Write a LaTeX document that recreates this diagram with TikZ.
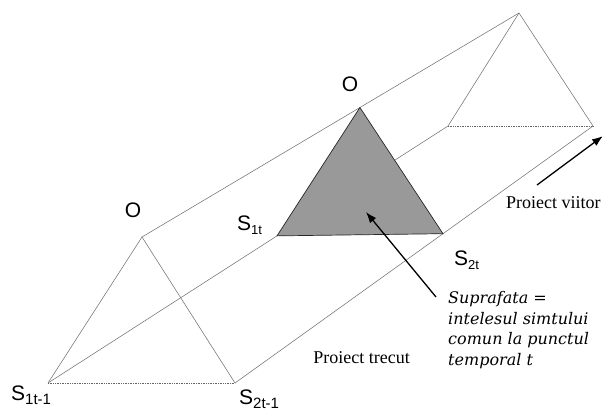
\documentclass[tikz,border=0pt]{standalone}
\usepackage{fontspec}
\setmainfont{Liberation Serif}
\newfontfamily\labfont{Liberation Sans}
\newfontfamily\notefont{DejaVu Serif}
\usetikzlibrary{arrows.meta,calc}
\tikzset{
  edge/.style={draw=black!55, line width=0.55pt},
  baseedge/.style={draw=black!60, line width=0.7pt, densely dotted},
  surf/.style={fill=black!40, draw=black!85, line width=0.7pt},
  vlabel/.style={font=\labfont\fontsize{21}{21}\selectfont, inner sep=0pt},
  ptext/.style={font=\fontsize{18}{18}\selectfont, inner sep=0pt},
  note/.style={font=\notefont\itshape\fontsize{16}{20.7}\selectfont, inner sep=0pt, align=left, anchor=north west},
  pointer/.style={draw=black, line width=1.3pt, -{Latex[length=11pt,width=8pt]}}
}
\newcommand{\subsc}[2]{{\fontsize{#1}{#1}\selectfont\raisebox{-4pt}{#2}}}
\begin{document}
\begin{tikzpicture}[x=1pt,y=-1pt]
\useasboundingbox (0,0) rectangle (602,410);
% left triangle
\coordinate (LO) at (142,237);
\coordinate (LA) at (48,383);
\coordinate (LB) at (235,383);
% right triangle
\coordinate (RO) at (519,13);
\coordinate (RA) at (448,126);
\coordinate (RB) at (593,126);
% middle triangle on the long lines
\coordinate (MO) at ($(LO)!0.578!(RO)$);
\coordinate (MA) at ($(LA)!0.5725!(RA)$);
\coordinate (MB) at ($(LB)!0.581!(RB)$);
% long lines
\draw[edge] (LO) -- (RO);
\draw[edge] (LA) -- (RA);
\draw[edge] (LB) -- (RB);
% left triangle
\draw[edge] (LA) -- (LO) -- (LB);
\draw[baseedge] (LA) -- (LB);
% right triangle
\draw[edge] (RA) -- (RO) -- (RB);
\draw[baseedge] (RA) -- (RB);
% middle surface
\draw[surf] (MO) -- (MA) -- (MB) -- cycle;
% labels
\node[vlabel] (oL) at (133,210.5) {O};
\node[vlabel] (oM) at (350,84) {O};
\node[vlabel, anchor=base west] (s1t) at (237,230) {S\subsc{13}{1t}};
\node[vlabel, anchor=base west] (s2t) at (454,265) {S\subsc{13}{2t}};
\node[vlabel, anchor=base west] (s1p) at (11,400) {S\subsc{15}{1t-1}};
\node[vlabel, anchor=base west] (s2p) at (239,404) {S\subsc{15}{2t-1}};
\node[ptext, anchor=base west] (viitor) at (506,208) {Proiect viitor};
\node[ptext, anchor=base east] (trecut) at (410,363) {Proiect trecut};
\node[note] (nota) at (448,291) {Suprafata =\\intelesul simtului\\comun la punctul\\temporal t};
% arrows
\coordinate (a1s) at (436,297);
\coordinate (a1e) at (366,212);
\coordinate (a2s) at (537,185);
\coordinate (a2e) at (603,136);
\draw[pointer] (a1s) -- (a1e);
\draw[pointer] (a2s) -- (a2e);
\end{tikzpicture}
\end{document}
